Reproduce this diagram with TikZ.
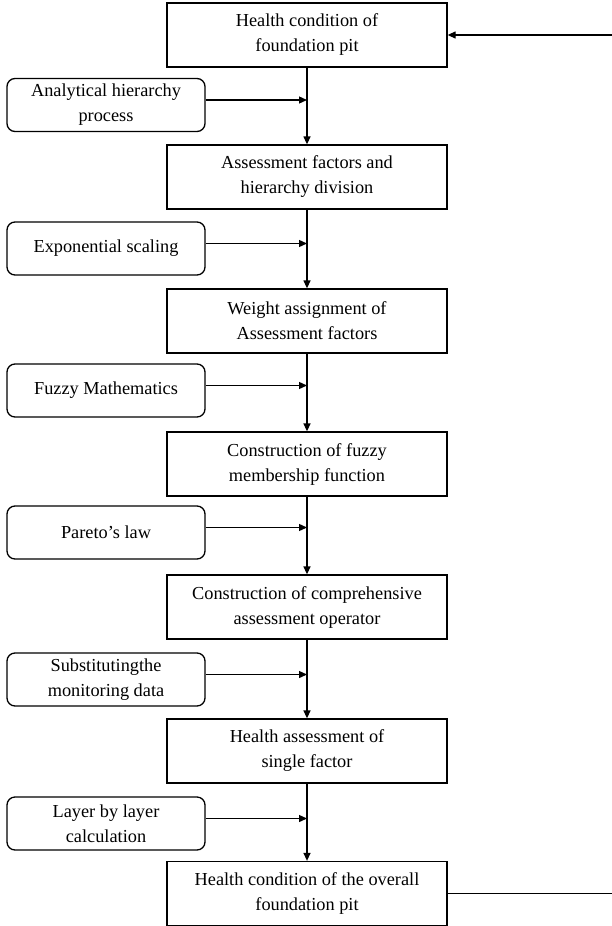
\documentclass[tikz,border=0pt]{standalone}
\usepackage{fontspec}
\setmainfont{Liberation Serif}
\usetikzlibrary{arrows.meta}
\begin{document}
\begin{tikzpicture}[x=1pt,y=-1pt,line width=1.3pt,
    stage/.style={draw,rectangle,minimum width=280pt,minimum height=64pt,align=center,inner sep=2pt,
      font=\fontsize{18.3}{25}\selectfont},
    method/.style={draw,rectangle,rounded corners=8pt,minimum width=198pt,minimum height=53pt,align=center,inner sep=2pt,
      font=\fontsize{18.3}{25}\selectfont},
    flow/.style={-{Triangle[length=8pt,width=7pt]}}]
                \useasboundingbox (0,0) rectangle (611,926);
                \node[stage] (B1) at (307,35) {Health condition of\\foundation pit};
                \node[stage] (B2) at (307,177) {Assessment factors and\\hierarchy division};
                \node[stage] (B3) at (307,321) {Weight assignment of\\Assessment factors};
                \node[stage] (B4) at (307,464) {Construction of fuzzy\\membership function};
                \node[stage] (B5) at (307,607) {Construction of comprehensive\\assessment operator};
                \node[stage] (B6) at (307,751) {Health assessment of\\single factor};
                \node[stage] (B7) at (307,893.5) {Health condition of the overall\\foundation pit};
                \node[method] (M1) at (106,105) {Analytical hierarchy\\process};
                \node[method] (M2) at (106,248.5) {Exponential scaling};
                \node[method] (M3) at (106,390.5) {Fuzzy Mathematics};
                \node[method] (M4) at (106,532.5) {Pareto's law};
                \node[method] (M5) at (106,679.5) {Substitutingthe\\monitoring data};
                \node[method] (M6) at (106,823.5) {Layer by layer\\calculation};
                \foreach \i/\j in {1/2,2/3,3/4,4/5,5/6,6/7} {
                    \draw[flow] (B\i) -- (B\j);
                    \draw[flow] ([yshift=5pt]M\i.east) -- ([yshift=5pt]M\i.east -| B\i.south);
                }
                \coordinate (R) at (613,35);
                \draw[flow] (B7.east) -- (B7.east -| R) -- (R) -- (B1.east);
\end{tikzpicture}
\end{document}
